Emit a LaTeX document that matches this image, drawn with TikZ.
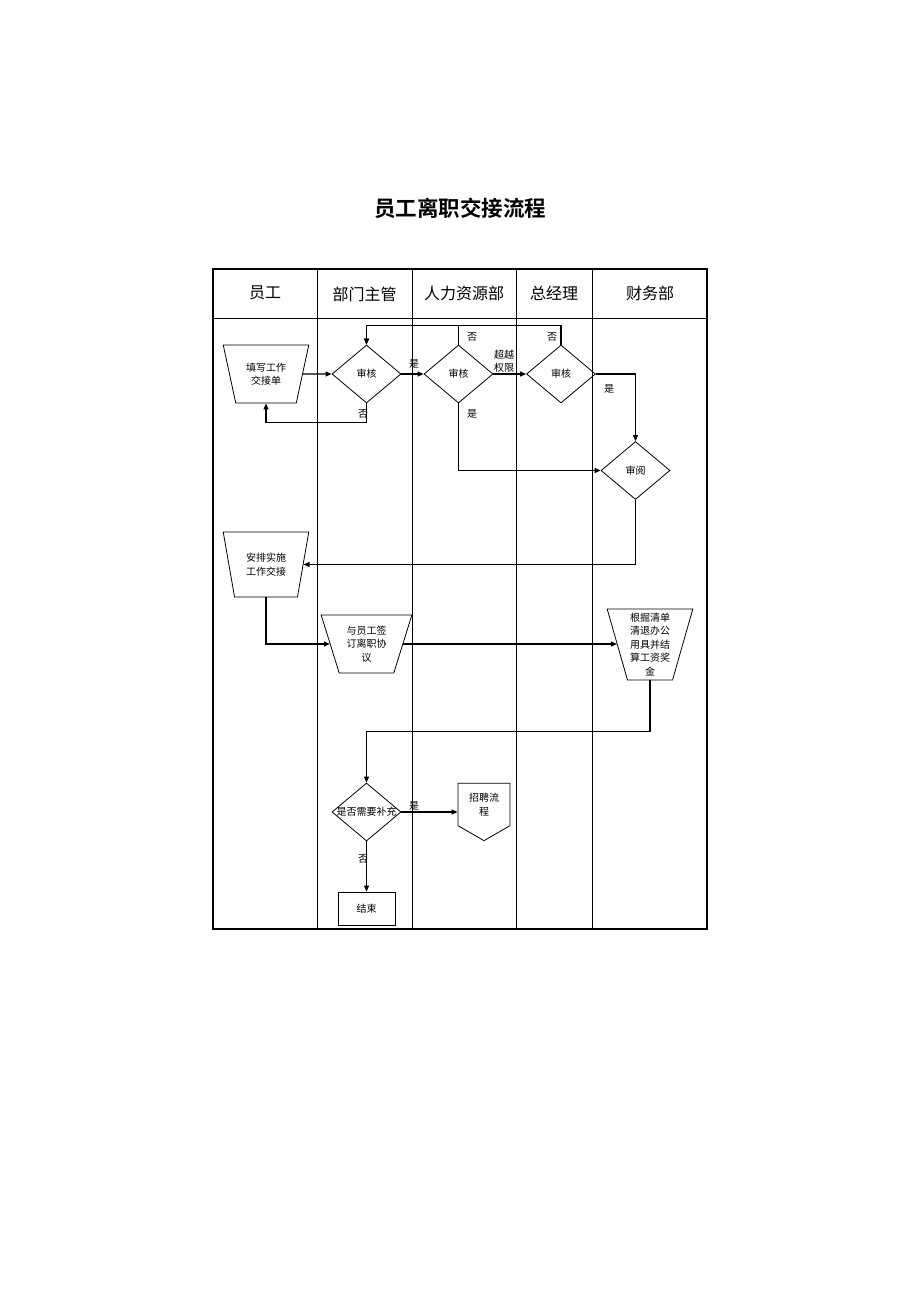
\documentclass[tikz,border=0pt]{standalone}
\usepackage{fontspec}
\newfontfamily\cjk{Noto Sans CJK SC}[BoldFont=Noto Sans CJK SC Bold]
\usetikzlibrary{arrows.meta,shapes.geometric,shapes.symbols}

\begin{document}
\begin{tikzpicture}[x=1pt, y=-1pt, >={Triangle[length=6pt,width=5pt]}]
    \tikzstyle{lane_style} = [draw=black, line width=0.8pt]
    \tikzstyle{header_style} = [font=\cjk\fontsize{16}{18}\selectfont, inner sep=0pt]
    \tikzstyle{label_style} = [font=\cjk\fontsize{10}{13}\selectfont, align=center, inner sep=0pt]
    \tikzstyle{decision_style} = [diamond, draw=black, line width=0.8pt, minimum width=69pt, minimum height=58pt, inner sep=0pt, font=\cjk\fontsize{10}{12}\selectfont]
    \tikzstyle{trap_style} = [trapezium, draw=black, line width=0.8pt, trapezium stretches, shape border rotate=180, trapezium left angle=70, trapezium right angle=70, inner sep=0pt, align=center, font=\cjk\fontsize{10}{13.5}\selectfont]
    \tikzstyle{offpage_style} = [signal, signal to=south, signal from=nowhere, signal pointer angle=120, draw=black, line width=0.8pt, minimum width=52pt, minimum height=51pt, inner sep=0pt, align=center, font=\cjk\fontsize{10}{13.5}\selectfont]
    \tikzstyle{end_style} = [rectangle, draw=black, line width=0.8pt, minimum width=57pt, minimum height=33pt, inner sep=0pt, font=\cjk\fontsize{10}{12}\selectfont]
    \tikzstyle{edge_style} = [draw=black, line width=1.1pt, ->]

    \useasboundingbox (0,0) rectangle (920,1302);

    % title and lanes
    \node[font=\cjk\bfseries\fontsize{21.5}{24}\selectfont] (title) at (460,208) {员工离职交接流程};
    \draw[draw=black, line width=1.6pt] (213,269) rectangle (707,929);
    \draw[lane_style, line width=0.5pt] (213,318) -- (707,318);
    \draw[lane_style] (317,269) -- (317,929);
    \draw[lane_style] (412,269) -- (412,929);
    \draw[lane_style] (516,269) -- (516,929);
    \draw[lane_style] (592,269) -- (592,929);
    \node[header_style] (h1) at (265,293) {员工};
    \node[header_style] (h2) at (364.5,294) {部门主管};
    \node[header_style] (h3) at (464,293) {人力资源部};
    \node[header_style] (h4) at (554,293) {总经理};
    \node[header_style] (h5) at (650,293) {财务部};

    % steps
    \node[trap_style, minimum width=86pt, minimum height=58pt] (fill) at (266,374) {填写工作\\交接单};
    \node[decision_style] (check1) at (366.5,374) {审核};
    \node[decision_style] (check2) at (458.5,374) {审核};
    \node[decision_style] (check3) at (561,374) {审核};
    \node[decision_style] (review) at (635.5,470.5) {审阅};
    \node[trap_style, minimum width=86pt, minimum height=65pt, trapezium left angle=72.5, trapezium right angle=72.5] (arrange) at (266,564.5) {安排实施\\工作交接};
    \node[trap_style, minimum width=91pt, minimum height=58pt] (sign) at (366.5,644) {与员工签\\订离职协\\议};
    \node[trap_style, minimum width=86pt, minimum height=71pt, trapezium left angle=74, trapezium right angle=74] (settle) at (650,644.5) {根掘清单\\清退办公\\用具并结\\算工资奖\\金};
    \node[decision_style] (more) at (366.5,812) {\makebox[0pt]{是否需要补充}};
    \node[offpage_style] (recruit) at (484,804.5) {招聘流\\程};
    \node[end_style] (finish) at (366.5,908.5) {结束};

    % connectors
    \draw[edge_style] (fill.east) -- (check1.west);
    \draw[edge_style] (check1.south) -- ++(0,19) -| (fill.south);
    \draw[edge_style] (check1.east) -- (check2.west);
    \draw[edge_style] (check2.north) -- ++(0,-19) -| (check1.north);
    \draw[edge_style] (check3.north) -- ++(0,-19) -| (check1.north);
    \draw[edge_style] (check2.east) -- (check3.west);
    \draw[edge_style] (check2.south) |- (review.west);
    \draw[edge_style] (check3.east) -| (review.north);
    \draw[edge_style] (review.south) |- (arrange.east);
    \draw[edge_style] (arrange.south) |- (sign.west);
    \draw[edge_style] (sign.east) -- (sign.east -| settle.west);
    \draw[edge_style] (settle.south) -- ++(0,51) -| (more.north);
    \draw[edge_style] (more.east) -- (more.east -| recruit.west);
    \draw[edge_style] (more.south) -- (finish.north);

    % branch labels
    \node[label_style] (no1) at (363,414) {否};
    \node[label_style] (yes1) at (414,364) {是};
    \node[label_style] (no2) at (472,337) {否};
    \node[label_style] (no3) at (552,337) {否};
    \node[label_style] (over) at (504,361.5) {超越\\权限};
    \node[label_style] (yes2) at (472,414) {是};
    \node[label_style] (yes3) at (609,389) {是};
    \node[label_style] (yes4) at (414,806) {是};
    \node[label_style] (no4) at (363,859) {否};
\end{tikzpicture}
\end{document}
